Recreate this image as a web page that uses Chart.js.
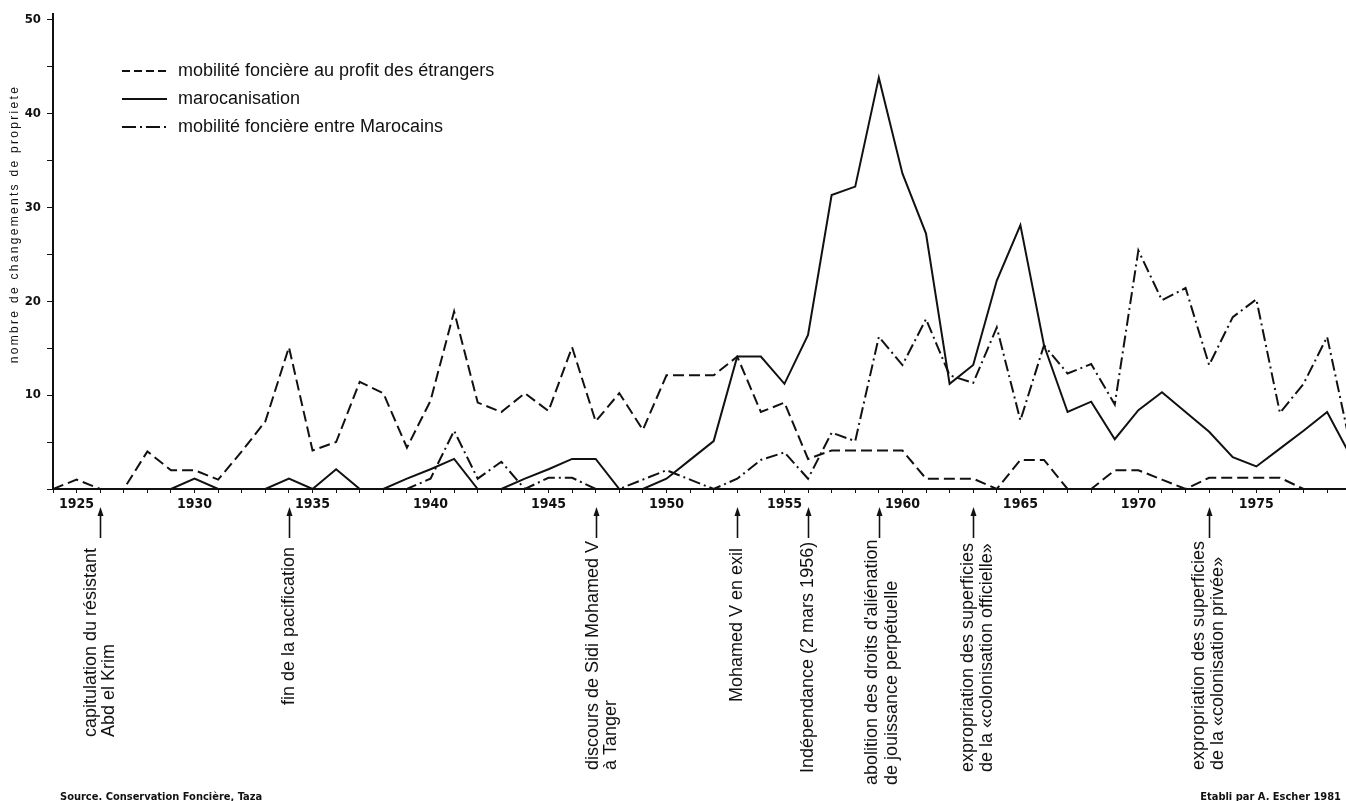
<!DOCTYPE html>
<html lang="fr">
<head>
<meta charset="utf-8">
<title>Mobilité foncière - Taza</title>
<script src="https://cdn.jsdelivr.net/npm/chart.js@4.4.1/dist/chart.umd.min.js"></script>
<style>
  html, body { margin: 0; padding: 0; background: #fff; }
  #wrap { width: 1346px; height: 801px; position: relative; }
</style>
</head>
<body>
<div id="wrap"><canvas id="chart" width="1346" height="801"></canvas></div>
<script>
// 数据：年份与三条曲线
const years = [1924, 1925, 1926, 1927, 1928, 1929, 1930, 1931, 1932, 1933,
               1934, 1935, 1936, 1937, 1938, 1939, 1940, 1941, 1942, 1943,
               1944, 1945, 1946, 1947, 1948, 1949, 1950, 1951, 1952, 1953,
               1954, 1955, 1956, 1957, 1958, 1959, 1960, 1961, 1962, 1963,
               1964, 1965, 1966, 1967, 1968, 1969, 1970, 1971, 1972, 1973,
               1974, 1975, 1976, 1977, 1978, 1979];

const etrangers = [0, 1, 0, 0, 4, 2, 2, 1, 4, 7.2,
                   15.1, 4.1, 5, 11.4, 10.2, 4.4, 9.4, 18.9, 9.2, 8.2,
                   10.2, 8.3, 15.1, 7.2, 10.2, 6.3, 12.1, 12.1, 12.1, 14.1,
                   8.2, 9.2, 3.2, 4.1, 4.1, 4.1, 4.1, 1.1, 1.1, 1.1,
                   0, 3.1, 3.1, 0, 0, 2, 2, 1, 0, 1.2,
                   1.2, 1.2, 1.2, 0, 0, 0];

const marocanisation = [0, 0, 0, 0, 0, 0, 1.1, 0, 0, 0,
                        1.1, 0, 2.1, 0, 0, 1.1, 2.1, 3.2, 0, 0,
                        1.1, 2.1, 3.2, 3.2, 0, 0, 1.1, 3.1, 5.1, 14.1,
                        14.1, 11.2, 16.4, 31.3, 32.2, 43.8, 33.6, 27.2, 11.2, 13.2,
                        22.2, 28.1, 15.3, 8.2, 9.3, 5.3, 8.4, 10.3, 8.2, 6.1,
                        3.4, 2.4, 4.3, 6.2, 8.2, 3.5];

const entreMarocains = [0, 0, 0, 0, 0, 0, 0, 0, 0, 0,
                        0, 0, 0, 0, 0, 0, 1.1, 6.2, 1.1, 2.9,
                        0, 1.2, 1.2, 0, 0, 1, 2, 1, 0, 1.1,
                        3.1, 3.9, 1.1, 6, 5.1, 16.2, 13.2, 18.1, 12.1, 11.3,
                        17.2, 7.3, 15.3, 12.3, 13.3, 9, 25.4, 20.1, 21.4, 13.2,
                        18.3, 20.2, 8.1, 11.2, 16.2, 4.5];

const seriesLabels = ['mobilité foncière au profit des étrangers',
                      'marocanisation',
                      'mobilité foncière entre Marocains'];

const xTickLabels = ['1925', '1930', '1935', '1940', '1945', '1950', '1955', '1960', '1965', '1970', '1975'];
const yTickValues = [0, 5, 10, 15, 20, 25, 30, 35, 40, 45, 50];
const yTickLabels = ['10', '20', '30', '40', '50'];

const yTitle = 'nombre de changements de propriete';
const sourceText = 'Source. Conservation Foncière, Taza';
const creditText = 'Etabli par A. Escher 1981';

// 事件（箭头所指年份与文字）
const eventYears = [1926, 1934, 1947, 1953, 1956, 1959, 1963, 1973];
const eventLabels = [
    ['capitulation du résistant', 'Abd el Krim'],
    ['fin de la pacification'],
    ['discours de Sidi Mohamed V', 'à Tanger'],
    ['Mohamed V en exil'],
    ['Indépendance (2 mars 1956)'],
    ['abolition des droits d\'aliénation', 'de jouissance perpétuelle'],
    ['expropriation des superficies', 'de la «colonisation officielle»'],
    ['expropriation des superficies', 'de la «colonisation privée»']
];

// 版面：每个事件文字行的水平偏移和底部位置
const eventLayout = [
    { dx: [-9, 9], bottom: 737 },
    { dx: [0], bottom: 705 },
    { dx: [-3, 15], bottom: 770 },
    { dx: [0], bottom: 702 },
    { dx: [0], bottom: 773 },
    { dx: [-7, 13], bottom: 785 },
    { dx: [-5, 14], bottom: 772 },
    { dx: [-10, 9], bottom: 770 }
];

const INK = '#111';
const TEXT_FONT = '"Liberation Sans", Arial, sans-serif';
const NARROW_FONT = '"Liberation Sans Narrow", "DejaVu Sans Condensed", sans-serif';

// 图例（画在图内左上角）
const legendPlugin = {
    id: 'customLegend',
    afterDraw(chart) {
        const ctx = chart.ctx;
        const rows = [71, 99, 127];
        ctx.save();
        chart.data.datasets.forEach((ds, i) => {
            const y = rows[i];
            ctx.strokeStyle = INK;
            ctx.lineWidth = 2;
            ctx.setLineDash(ds.legendDash || []);
            ctx.beginPath();
            ctx.moveTo(122, y);
            ctx.lineTo(167, y);
            ctx.stroke();
            ctx.setLineDash([]);
            ctx.fillStyle = INK;
            ctx.font = '18px ' + TEXT_FONT;
            ctx.textAlign = 'left';
            ctx.textBaseline = 'middle';
            ctx.fillText(ds.label, 178, y);
        });
        ctx.restore();
    }
};

// 事件箭头与竖排文字
const eventPlugin = {
    id: 'events',
    afterDraw(chart) {
        const ctx = chart.ctx;
        const xScale = chart.scales.x;
        ctx.save();
        ctx.fillStyle = INK;
        ctx.strokeStyle = INK;
        eventYears.forEach((yr, i) => {
            const x = Math.round(xScale.getPixelForValue(yr)) + 0.5;
            const lay = eventLayout[i];
            // 箭头
            ctx.lineWidth = 1.6;
            ctx.beginPath();
            ctx.moveTo(x, 538);
            ctx.lineTo(x, 514);
            ctx.stroke();
            ctx.beginPath();
            ctx.moveTo(x, 507);
            ctx.lineTo(x - 3, 516);
            ctx.lineTo(x + 3, 516);
            ctx.closePath();
            ctx.fill();
            // 文字
            ctx.font = '18px ' + TEXT_FONT;
            ctx.textAlign = 'left';
            ctx.textBaseline = 'middle';
            eventLabels[i].forEach((line, j) => {
                ctx.save();
                ctx.translate(x + lay.dx[j], lay.bottom);
                ctx.rotate(-Math.PI / 2);
                ctx.fillText(line, 0, 0);
                ctx.restore();
            });
        });
        ctx.restore();
    }
};

// 纵轴标题、来源与作者
const notesPlugin = {
    id: 'notes',
    afterDraw(chart) {
        const ctx = chart.ctx;
        ctx.save();
        ctx.fillStyle = INK;
        ctx.font = '12px ' + TEXT_FONT;
        ctx.letterSpacing = '2.3px';
        ctx.textAlign = 'center';
        ctx.textBaseline = 'middle';
        ctx.translate(15, 224);
        ctx.rotate(-Math.PI / 2);
        ctx.fillText(yTitle, 0, 0);
        ctx.restore();

        ctx.save();
        ctx.fillStyle = INK;
        ctx.font = 'bold 11px ' + NARROW_FONT;
        ctx.textBaseline = 'middle';
        ctx.textAlign = 'left';
        ctx.fillText(sourceText, 60, 797);
        ctx.textAlign = 'right';
        ctx.fillText(creditText, 1341, 797);
        ctx.restore();
    }
};

const ctx = document.getElementById('chart').getContext('2d');
new Chart(ctx, {
    type: 'line',
    data: {
        datasets: [
            {
                label: seriesLabels[0],
                data: years.map((yr, i) => ({ x: yr, y: etrangers[i] })),
                borderDash: [11, 5],
                legendDash: [8, 4]
            },
            {
                label: seriesLabels[1],
                data: years.map((yr, i) => ({ x: yr, y: marocanisation[i] })),
                borderDash: [],
                legendDash: []
            },
            {
                label: seriesLabels[2],
                data: years.map((yr, i) => ({ x: yr, y: entreMarocains[i] })),
                borderDash: [12, 4, 2, 4],
                legendDash: [14, 4, 2, 4]
            }
        ]
    },
    options: {
        responsive: false,
        animation: false,
        devicePixelRatio: 1,
        layout: { padding: { top: 12, right: 0, left: 0, bottom: 0 } },
        elements: {
            line: { borderColor: INK, borderWidth: 2, tension: 0, fill: false, borderJoinStyle: 'miter' },
            point: { radius: 0, hoverRadius: 0 }
        },
        plugins: {
            legend: { display: false },
            tooltip: { enabled: false }
        },
        scales: {
            x: {
                type: 'linear',
                min: 1924,
                max: 1978.8,
                // 每年一个刻度（只在 1925、1930… 处写标签）
                afterBuildTicks: (scale) => {
                    scale.ticks = years.filter(v => v <= scale.max).map(v => ({ value: v }));
                },
                afterFit: (scale) => { scale.height = 312; },
                ticks: {
                    autoSkip: false,
                    maxRotation: 0,
                    padding: 3,
                    color: INK,
                    font: { family: NARROW_FONT, size: 14, weight: 'bold' },
                    callback: (v) => xTickLabels.includes(String(v)) ? String(v) : ''
                },
                grid: { drawOnChartArea: false, drawTicks: true, tickLength: 4, color: INK, tickWidth: 1 },
                border: { color: INK, width: 2 }
            },
            y: {
                min: 0,
                max: 50.6,
                afterBuildTicks: (scale) => {
                    scale.ticks = yTickValues.map(v => ({ value: v }));
                },
                afterFit: (scale) => { scale.width = 53; },
                ticks: {
                    padding: 6,
                    color: INK,
                    font: { family: NARROW_FONT, size: 13, weight: 'bold' },
                    callback: (v) => yTickLabels.includes(String(v)) ? String(v) : ''
                },
                grid: { drawOnChartArea: false, drawTicks: true, tickLength: 6, color: INK, tickWidth: 1 },
                border: { color: INK, width: 2 }
            }
        }
    },
    plugins: [legendPlugin, eventPlugin, notesPlugin]
});
</script>
</body>
</html>
